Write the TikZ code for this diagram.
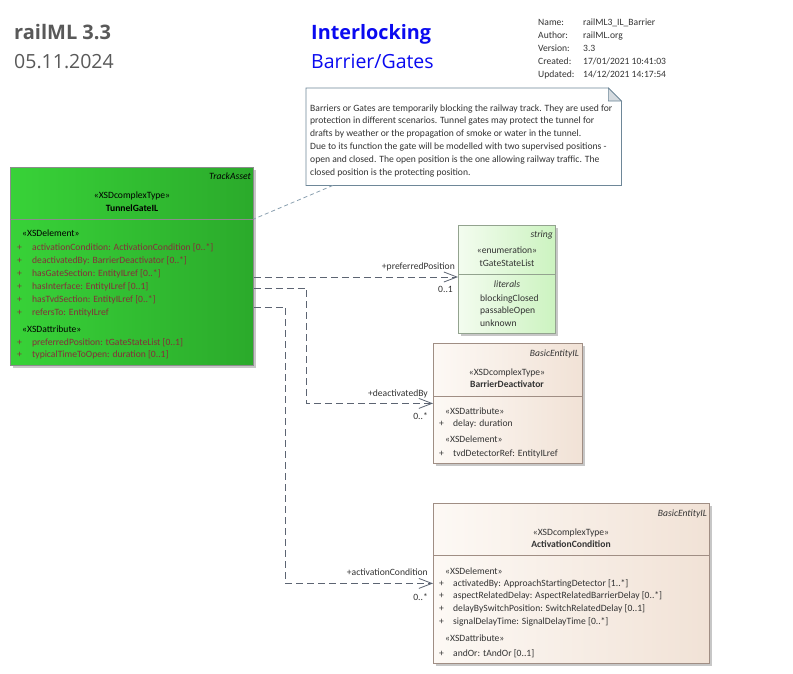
\documentclass[tikz,border=0pt]{standalone}
\usepackage{fontspec}
\setmainfont{Carlito}
\newfontfamily\headfont{Open Sans}
\usetikzlibrary{arrows.meta,calc,shadows}

\definecolor{headgray}{HTML}{595959}
\definecolor{headblue}{HTML}{0A0AF0}
\definecolor{metagray}{HTML}{333333}
\definecolor{noteline}{HTML}{6E8798}
\definecolor{notefold}{HTML}{D5DBE0}
\definecolor{notelink}{HTML}{8AA0B0}
\definecolor{connline}{HTML}{5C6472}
\definecolor{gateline}{HTML}{8C8C8C}
\definecolor{gateleft}{HTML}{38D238}
\definecolor{gateright}{HTML}{2BAA2B}
\definecolor{gateattr}{HTML}{862E3A}
\definecolor{enumline}{HTML}{93A38F}
\definecolor{enumleft}{HTML}{F3FCEF}
\definecolor{enumright}{HTML}{CCF3C0}
\definecolor{basicline}{HTML}{A08E84}
\definecolor{basicleft}{HTML}{FDF9F5}
\definecolor{basicright}{HTML}{F1E2D6}

\tikzset{
  classbox/.style={draw=#1, line width=0.8pt, inner sep=0pt, anchor=north west,
    drop shadow={shadow xshift=3pt, shadow yshift=-3pt, fill=black, opacity=0.22}},
  small/.style={font=\fontsize{9.6}{11}\selectfont, text=metagray, inner sep=0pt},
  conn/.style={draw=connline, line width=0.8pt, dash pattern=on 7pt off 4pt,
    -{Straight Barb[length=13pt,width=10pt]}},
}
\newcommand{\plusrow}{\makebox[15pt][l]{+}}
\newcommand{\plusact}{\makebox[14pt][l]{+}}

\begin{document}
\begin{tikzpicture}[x=1pt, y=-1pt]
\useasboundingbox[fill=white] (0,0) rectangle (793,673);

%%%%% HEADER %%%%%
\node[font=\headfont\bfseries\fontsize{20}{24}\selectfont, text=headgray, anchor=base west, inner sep=0pt] (title) at (14,39) {railML 3.3};
\node[font=\headfont\fontsize{19.5}{24}\selectfont, text=headgray, anchor=base west, inner sep=0pt] (date) at (14,68) {05.11.2024};
\node[font=\headfont\bfseries\fontsize{19.8}{24}\selectfont, text=headblue, anchor=base west, inner sep=0pt] (pkg) at (311,39) {Interlocking};
\node[font=\headfont\fontsize{19.5}{24}\selectfont, text=headblue, anchor=base west, inner sep=0pt] (diag) at (311,68) {Barrier/Gates};

\foreach \k/\v [count=\i from 0] in {{Name:}/{railML3\_IL\_Barrier}, {Author:}/{railML.org}, {Version:}/{3.3},
    {Created:}/{17/01/2021 10:41:03}, {Updated:}/{14/12/2021 14:17:54}} {
  \node[small, anchor=base west] (metak\i) at (538,25+13*\i) {\k};
  \node[small, anchor=base west] (metav\i) at (583,25+13*\i) {\v};
}

%%%%% NOTE %%%%%
\node[minimum width=315pt, minimum height=97pt, anchor=north west, inner sep=0pt] (note) at (306,88) {};
\draw[noteline, fill=white, line width=0.8pt] (note.north west) -- ([xshift=-13pt]note.north east)
  -- ([yshift=-13pt]note.north east) -- (note.south east) -- (note.south west) -- cycle;
\draw[noteline, fill=notefold, line width=0.6pt] ([xshift=-13pt]note.north east)
  -- ([xshift=-13pt,yshift=-13pt]note.north east) -- ([yshift=-13pt]note.north east) -- cycle;
\foreach \t [count=\i from 0] in {
  {Barriers or Gates are temporarily blocking the railway track. They are used for},
  {protection in different scenarios. Tunnel gates may protect the tunnel for},
  {drafts by weather or the propagation of smoke or water in the tunnel.},
  {Due to its function the gate will be modelled with two supervised positions -},
  {open and closed. The open position is the one allowing railway traffic. The},
  {closed position is the protecting position.}} {
  \node[small, anchor=base west] (notel\i) at (310,111+12.8*\i) {\t};
}

%%%%% TunnelGateIL %%%%%
\node[classbox=gateline, left color=gateleft, right color=gateright,
  minimum width=243pt, minimum height=198pt] (gate) at (10,167) {};
\draw[gateline, line width=0.6pt] (gate.west |- 0,219) -- (gate.east |- 0,219);
\node[small, text=black, anchor=base east, font=\fontsize{9.6}{11}\selectfont\itshape] (gatebase) at (251,179) {TrackAsset};
\node[small, text=black, anchor=base] (gatest) at (132,198) {«XSDcomplexType»};
\node[small, text=black, anchor=base, font=\fontsize{9.6}{11}\selectfont\bfseries] (gatename) at (132,211) {TunnelGateIL};
\node[small, text=black, anchor=base west] (gateel) at (22,236) {«XSDelement»};
\foreach \t [count=\i from 0] in {
  {activationCondition: ActivationCondition [0..*]},
  {deactivatedBy: BarrierDeactivator [0..*]},
  {hasGateSection: EntityILref [0..*]},
  {hasInterface: EntityILref [0..1]},
  {hasTvdSection: EntityILref [0..*]},
  {refersTo: EntityILref}} {
  \node[small, text=gateattr, anchor=base west] (gatee\i) at (17,250+13*\i) {\plusrow\t};
}
\node[small, text=black, anchor=base west] (gateat) at (22,332) {«XSDattribute»};
\node[small, text=gateattr, anchor=base west] (gatea0) at (17,345) {\plusrow preferredPosition: tGateStateList [0..1]};
\node[small, text=gateattr, anchor=base west] (gatea1) at (17,357) {\plusrow typicalTimeToOpen: duration [0..1]};

%%%%% tGateStateList %%%%%
\node[classbox=enumline, left color=enumleft, right color=enumright,
  minimum width=97pt, minimum height=108pt] (tgsl) at (458,225) {};
\draw[enumline, line width=0.6pt] (tgsl.west |- 0,274) -- (tgsl.east |- 0,274);
\node[small, anchor=base east, font=\fontsize{9.6}{11}\selectfont\itshape] (tgslbase) at (553,237) {string};
\node[small, anchor=base] (tgslst) at (507,253) {«enumeration»};
\node[small, anchor=base] (tgslname) at (507,266) {tGateStateList};
\node[small, anchor=base, font=\fontsize{9.6}{11}\selectfont\itshape] (tgsllit) at (507,287) {literals};
\foreach \t [count=\i from 0] in {blockingClosed, passableOpen, unknown} {
  \node[small, anchor=base west] (tgsll\i) at (480,301+12.5*\i) {\t};
}

%%%%% BarrierDeactivator %%%%%
\node[classbox=basicline, left color=basicleft, right color=basicright,
  minimum width=149pt, minimum height=120pt] (deact) at (433,343) {};
\draw[basicline, line width=0.6pt] (deact.west |- 0,396) -- (deact.east |- 0,396);
\node[small, anchor=base east, font=\fontsize{9.6}{11}\selectfont\itshape] (deactbase) at (579,356) {BasicEntityIL};
\node[small, anchor=base] (deactst) at (507,375) {«XSDcomplexType»};
\node[small, anchor=base, font=\fontsize{9.6}{11}\selectfont\bfseries] (deactname) at (507,387) {BarrierDeactivator};
\node[small, anchor=base west] (deactat) at (445,414) {«XSDattribute»};
\node[small, anchor=base west] (deacta0) at (439,426) {\plusact delay: duration};
\node[small, anchor=base west] (deactel) at (445,442) {«XSDelement»};
\node[small, anchor=base west] (deacte0) at (439,456) {\plusact tvdDetectorRef: EntityILref};

%%%%% ActivationCondition %%%%%
\node[classbox=basicline, left color=basicleft, right color=basicright,
  minimum width=276pt, minimum height=160pt] (act) at (433,503) {};
\draw[basicline, line width=0.6pt] (act.west |- 0,555) -- (act.east |- 0,555);
\node[small, anchor=base east, font=\fontsize{9.6}{11}\selectfont\itshape] (actbase) at (707,516) {BasicEntityIL};
\node[small, anchor=base] (actst) at (571,535) {«XSDcomplexType»};
\node[small, anchor=base, font=\fontsize{9.6}{11}\selectfont\bfseries] (actname) at (571,547) {ActivationCondition};
\node[small, anchor=base west] (actel) at (445,574) {«XSDelement»};
\foreach \t [count=\i from 0] in {
  {activatedBy: ApproachStartingDetector [1..*]},
  {aspectRelatedDelay: AspectRelatedBarrierDelay [0..*]},
  {delayBySwitchPosition: SwitchRelatedDelay [0..1]},
  {signalDelayTime: SignalDelayTime [0..*]}} {
  \node[small, anchor=base west] (acte\i) at (439,586+12.8*\i) {\plusact\t};
}
\node[small, anchor=base west] (actat) at (445,641) {«XSDattribute»};
\node[small, anchor=base west] (acta0) at (439,656) {\plusact andOr: tAndOr [0..1]};

%%%%% CONNECTORS %%%%%
\draw[notelink, line width=0.8pt, dash pattern=on 4pt off 3pt] ($(note.south west)+(27,0)$) -- ($(gate.north east)+(0,52)$);

\coordinate (ppstart) at ($(gate.north east)+(0,110)$);
\draw[conn] (ppstart) -- (ppstart -| tgsl.west);
\node[small, anchor=base east] (pplabel) at (455,269) {+preferredPosition};
\node[small, anchor=base east] (ppmult) at (453,292) {0..1};

\coordinate (dbstart) at ($(gate.north east)+(0,121)$);
\draw[conn] (dbstart) -- ++(53,0) |- (deact.west);
\node[small, anchor=base east] (dblabel) at (428,396) {+deactivatedBy};
\node[small, anchor=base east] (dbmult) at (428,419) {0..*};

\coordinate (acstart) at ($(gate.north east)+(0,140)$);
\draw[conn] (acstart) -- ++(32,0) |- (act.west);
\node[small, anchor=base east] (aclabel) at (428,575) {+activationCondition};
\node[small, anchor=base east] (acmult) at (428,600) {0..*};

\end{tikzpicture}
\end{document}
